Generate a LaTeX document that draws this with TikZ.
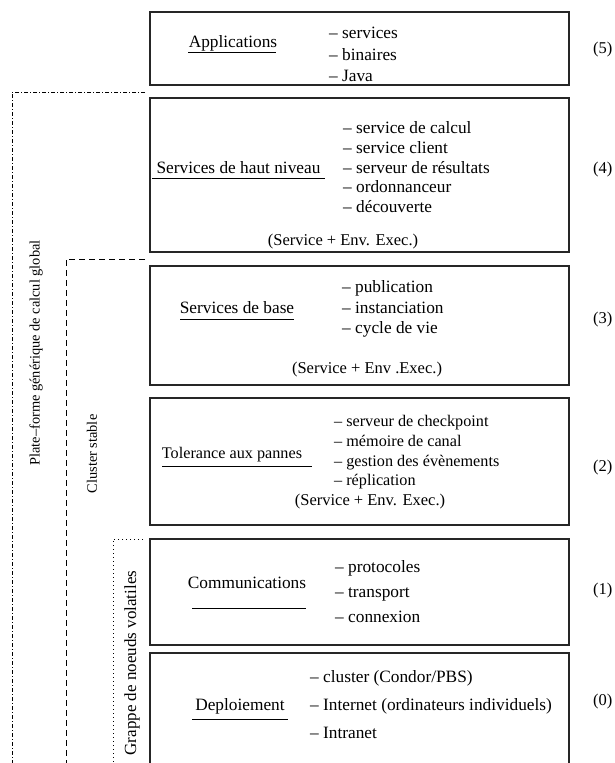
\documentclass[tikz,border=0pt]{standalone}
\usepackage{fontspec}
\setmainfont{Liberation Serif}
\begin{document}
\begin{tikzpicture}[x=1pt,y=-1pt,
  box/.style={draw=black!85, line width=1.1pt, inner sep=0pt, minimum width=419pt},
  lbl/.style={anchor=base, inner sep=0pt, font=\fontsize{17.3}{20}\selectfont},
  itm/.style={anchor=base west, inner sep=0pt, font=\fontsize{17.3}{20}\selectfont},
  itmsmall/.style={anchor=base west, inner sep=0pt, font=\fontsize{16.2}{19}\selectfont},
  env/.style={anchor=base, inner sep=0pt, font=\fontsize{16.5}{19}\selectfont},
  num/.style={anchor=base west, inner sep=0pt, font=\fontsize{16.5}{19}\selectfont},
  uline/.style={line width=0.9pt},
  side/.style={rotate=90, inner sep=0pt, font=\fontsize{14.4}{16}\selectfont},
  ddot/.style={line width=0.6pt, dash pattern=on 4pt off 2pt on 1pt off 2pt},
  dsh/.style={line width=0.7pt, dash pattern=on 6pt off 4pt},
  dtt/.style={line width=0.7pt, dash pattern=on 1pt off 3pt}]
\useasboundingbox (0,0) rectangle (614,763);

% boxes
\node[box, minimum height=73pt]  (b5) at (359.5,48.5) {};
\node[box, minimum height=154pt] (b4) at (359.5,175) {};
\node[box, minimum height=119pt] (b3) at (359.5,325.5) {};
\node[box, minimum height=127pt] (b2) at (359.5,461.5) {};
\node[box, minimum height=106pt] (b1) at (359.5,592) {};
\draw[draw=black!85, line width=1.1pt] (150,763) -- (150,653) -- (569,653) -- (569,763);

% level 5
\node[lbl] (l5) at (233,47) {Applications};
\draw[uline] (188,52) -- (276,52);
\node[itm] (i5a) at (329,38.5) {– services};
\node[itm] (i5b) at (329,60) {– binaires};
\node[itm] (i5c) at (329,81) {– Java};
\node[num] (n5) at (593,53) {(5)};

% level 4
\node[lbl] (l4) at (238.5,173) {Services de haut niveau};
\draw[uline] (152,178) -- (325,178);
\node[itm] (i4a) at (343,133) {– service de calcul};
\node[itm] (i4b) at (343,153) {– service client};
\node[itm] (i4c) at (343,173) {– serveur de résultats};
\node[itm] (i4d) at (343,192.5) {– ordonnanceur};
\node[itm] (i4e) at (343,212) {– découverte};
\node[env] (e4) at (343,245) {(Service + Env. Exec.)};
\node[num] (n4) at (593,173) {(4)};

% level 3
\node[lbl] (l3) at (237,313) {Services de base};
\draw[uline] (180,319) -- (294,319);
\node[itm] (i3a) at (342,292) {– publication};
\node[itm] (i3b) at (342,313) {– instanciation};
\node[itm] (i3c) at (342,333) {– cycle de vie};
\node[env] (e3) at (367,373) {(Service + Env .Exec.)};
\node[num] (n3) at (593,323) {(3)};

% level 2
\node[lbl, font=\fontsize{16.2}{19}\selectfont] (l2) at (232,458) {Tolerance aux pannes};
\draw[uline] (162,466) -- (312,466);
\node[itmsmall] (i2a) at (334,426) {– serveur de checkpoint};
\node[itmsmall] (i2b) at (334,446) {– mémoire de canal};
\node[itmsmall] (i2c) at (334,466) {– gestion des évènements};
\node[itmsmall] (i2d) at (334,485) {– réplication};
\node[env] (e2) at (370,505) {(Service + Env. Exec.)};
\node[num] (n2) at (593,471) {(2)};

% level 1
\node[lbl] (l1) at (247,588) {Communications};
\draw[uline] (192,608) -- (306,608);
\node[itm] (i1a) at (335,572) {– protocoles};
\node[itm] (i1b) at (335,597) {– transport};
\node[itm] (i1c) at (335,622) {– connexion};
\node[num] (n1) at (593,594) {(1)};

% level 0
\node[lbl] (l0) at (240,710) {Deploiement};
\draw[uline] (192,719) -- (288,719);
\node[itm] (i0a) at (310,682) {– cluster (Condor/PBS)};
\node[itm] (i0b) at (310,710) {– Internet (ordinateurs individuels)};
\node[itm] (i0c) at (310,738) {– Intranet};
\node[num] (n0) at (593,705) {(0)};

% brackets
\draw[ddot] (145,92) -- (12,92) -- (12,763);
\draw[dsh] (145,259) -- (66,259) -- (66,763);
\draw[dtt] (143,539) -- (113,539) -- (113,763);

\node[side] (s1) at (36,353) {Plate–forme générique de calcul global};
\node[side] (s2) at (92,454) {Cluster stable};
\node[side, font=\fontsize{17}{19}\selectfont] (s3) at (132,663) {Grappe de noeuds volatiles};
\end{tikzpicture}
\end{document}
